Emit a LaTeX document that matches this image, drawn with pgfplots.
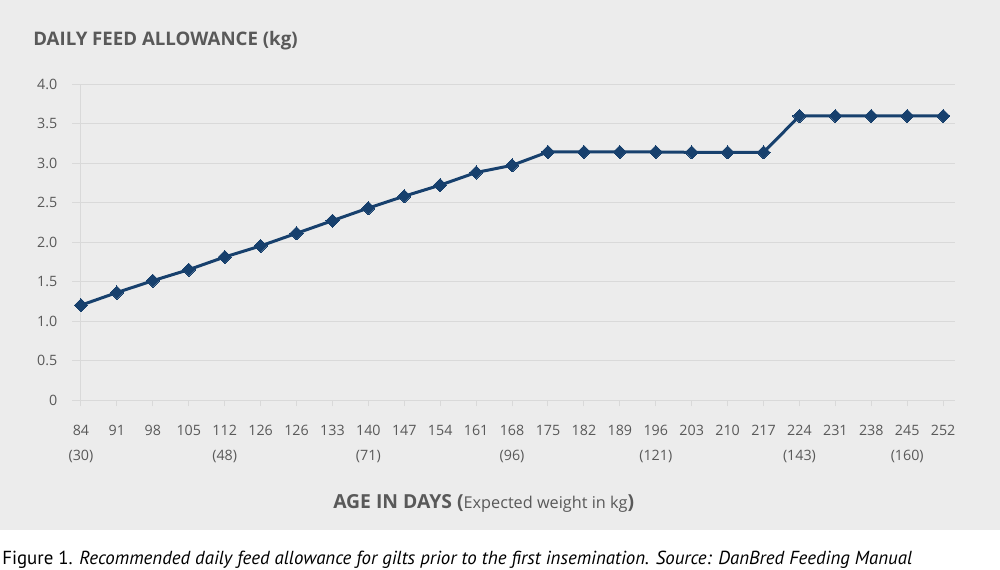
\documentclass[border=0pt]{standalone}
\usepackage{pgfplots}
\pgfplotsset{compat=1.18}
\usepackage{fontspec}
\setmainfont{Open Sans}
\newfontfamily\capfont{PT Sans}
\definecolor{bg}{HTML}{ECECEC}
\definecolor{gridc}{HTML}{D9D9D9}
\definecolor{txt}{HTML}{595959}
\definecolor{line}{HTML}{17406D}
\begin{document}
\begin{tikzpicture}[x=0.75pt,y=0.75pt]
\fill[white] (0,0) rectangle (1000,569);
\fill[bg] (0,39) rectangle (1000,569);
\useasboundingbox (0,0) rectangle (1000,569);
\begin{axis}[
  at={(54pt,126.75pt)}, anchor=south west,
  scale only axis, width=662.25pt, height=237pt,
  xmin=-0.25, xmax=24.33, ymin=0, ymax=4,
  axis line style={draw=none},
  ymajorgrids, grid style={gridc, line width=0.75pt},
  ytick={0,0.5,...,4.0},
  yticklabels={0,0.5,1.0,1.5,2.0,2.5,3.0,3.5,4.0},
  ytick style={draw=none},
  xtick={0,...,24},
  xticklabels={84\\(30),91\\\strut,98\\\strut,105\\\strut,112\\(48),126\\\strut,126\\\strut,133\\\strut,140\\(71),147\\\strut,154\\\strut,161\\\strut,168\\(96),175\\\strut,182\\\strut,189\\\strut,196\\(121),203\\\strut,210\\\strut,217\\\strut,224\\(143),231\\\strut,238\\\strut,245\\(160),252\\\strut},
  xtick pos=bottom, tick align=outside, major tick length=4.5pt,
  x tick style={gridc, line width=0.75pt},
  extra x ticks={0}, extra x tick labels={},
  extra x tick style={grid=major, major tick length=0pt},
  xticklabel style={align=center, font=\fontsize{10.7}{18.75}\selectfont, text=txt, yshift=-11pt},
  yticklabel style={font=\fontsize{10.7}{12}\selectfont, text=txt, xshift=-3pt},
  clip=false,
]
\addplot[line, line width=2.25pt, mark=square*, mark size=3.5pt, mark options={rotate=45, fill=line, line width=0pt}]
coordinates {
(0,1.20) (1,1.36) (2,1.51) (3,1.65) (4,1.81) (5,1.95) (6,2.11) (7,2.27) (8,2.43)
(9,2.58) (10,2.72) (11,2.88) (12,2.97) (13,3.14) (14,3.14) (15,3.14) (16,3.14)
(17,3.135) (18,3.135) (19,3.135) (20,3.595) (21,3.595) (22,3.595) (23,3.595) (24,3.595)
};
\end{axis}
\node[anchor=base west, inner sep=0, text=txt, font=\bfseries\fontsize{14}{16}\selectfont] at (33,523) {DAILY FEED ALLOWANCE (kg)};
\node[anchor=base west, inner sep=0, text=txt] at (333,61) {{\bfseries\fontsize{14.5}{16}\selectfont AGE IN DAYS (}{\fontsize{12.2}{14}\selectfont Expected weight in kg}{\bfseries\fontsize{14.5}{16}\selectfont )}};
\node[anchor=base west, inner sep=0, text=black, font=\capfont\fontsize{14.15}{16}\selectfont] at (2,5) {Figure 1. \textit{Recommended daily feed allowance for gilts prior to the first insemination. Source: DanBred Feeding Manual}};
\end{tikzpicture}
\end{document}
